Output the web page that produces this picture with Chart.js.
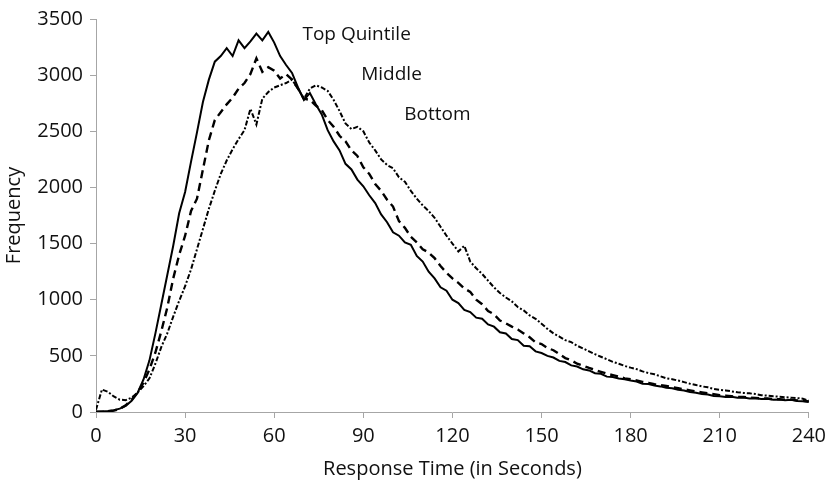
<!DOCTYPE html>
<html>
<head>
<meta charset="utf-8">
<script src="https://cdn.jsdelivr.net/npm/chart.js@4.4.1/dist/chart.umd.min.js"></script>
<style>
  html, body { margin: 0; padding: 0; background: #fff; }
</style>
</head>
<body>
<canvas id="responseChart" width="832" height="484"></canvas>
<script>
// Response time distributions by quintile, one value every 2 seconds
const seconds = [0, 2, 4, 6, 8, 10, 12, 14, 16, 18, 20, 22, 24, 26, 28, 30, 32, 34, 36, 38,
  40, 42, 44, 46, 48, 50, 52, 54, 56, 58, 60, 62, 64, 66, 68, 70, 72, 74, 76, 78,
  80, 82, 84, 86, 88, 90, 92, 94, 96, 98, 100, 102, 104, 106, 108, 110, 112, 114, 116, 118,
  120, 122, 124, 126, 128, 130, 132, 134, 136, 138, 140, 142, 144, 146, 148, 150, 152, 154, 156, 158,
  160, 162, 164, 166, 168, 170, 172, 174, 176, 178, 180, 182, 184, 186, 188, 190, 192, 194, 196, 198,
  200, 202, 204, 206, 208, 210, 212, 214, 216, 218, 220, 222, 224, 226, 228, 230, 232, 234, 236, 238, 240];

const topQuintile = [5, 5, 8, 15, 30, 55, 100, 170, 290, 460, 700, 960, 1220, 1480, 1770, 1960, 2230, 2490, 2760, 2960,
  3120, 3170, 3240, 3170, 3310, 3240, 3300, 3370, 3310, 3385, 3290, 3170, 3090, 3020, 2890, 2780, 2840, 2740, 2650, 2510,
  2410, 2330, 2210, 2160, 2070, 2010, 1930, 1860, 1760, 1690, 1600, 1570, 1510, 1490, 1390, 1340, 1250, 1190, 1110, 1080,
  1000, 970, 910, 890, 840, 830, 780, 760, 710, 700, 650, 640, 590, 585, 540, 525, 500, 485, 455, 445,
  415, 405, 380, 370, 345, 340, 315, 312, 298, 292, 280, 272, 252, 250, 235, 228, 215, 212, 198, 192,
  178, 172, 160, 155, 143, 140, 134, 136, 126, 128, 120, 122, 115, 118, 110, 112, 105, 108, 98, 96, 90];

const middle = [0, 3, 5, 12, 28, 60, 110, 175, 260, 380, 530, 720, 930, 1190, 1400, 1570, 1790, 1900, 2160, 2420,
  2600, 2670, 2740, 2800, 2880, 2930, 3010, 3150, 3030, 3070, 3040, 2970, 3010, 2960, 2880, 2790, 2780, 2730, 2690, 2600,
  2540, 2460, 2410, 2330, 2280, 2180, 2120, 2030, 1970, 1890, 1830, 1700, 1640, 1560, 1510, 1450, 1420, 1370, 1300, 1240,
  1190, 1150, 1100, 1070, 1000, 960, 900, 870, 815, 790, 760, 735, 700, 665, 620, 605, 570, 550, 515, 480,
  460, 430, 412, 392, 375, 358, 342, 328, 315, 300, 292, 282, 268, 260, 248, 240, 232, 222, 212, 202,
  192, 183, 174, 166, 158, 150, 146, 141, 135, 133, 128, 126, 121, 120, 115, 114, 110, 110, 104, 100, 95];

const bottom = [20, 200, 180, 138, 110, 105, 128, 172, 230, 300, 430, 580, 700, 850, 990, 1120, 1270, 1450, 1630, 1810,
  1970, 2120, 2240, 2340, 2430, 2510, 2700, 2560, 2790, 2850, 2890, 2910, 2930, 2960, 2880, 2790, 2880, 2910, 2890, 2860,
  2780, 2680, 2570, 2520, 2540, 2500, 2400, 2330, 2250, 2200, 2170, 2090, 2050, 1970, 1900, 1840, 1790, 1730, 1650, 1570,
  1500, 1430, 1480, 1340, 1280, 1230, 1170, 1110, 1060, 1020, 985, 935, 905, 860, 830, 786, 740, 700, 672, 640,
  622, 590, 566, 540, 515, 492, 470, 447, 430, 410, 395, 382, 362, 347, 336, 318, 300, 292, 280, 266,
  252, 240, 228, 220, 205, 198, 192, 184, 176, 170, 166, 160, 150, 146, 140, 137, 132, 128, 124, 118, 100];

// in-plot labels, placed in data units
const seriesLabels = ['Top Quintile', 'Middle', 'Bottom'];
const labelAt = [[69.5, 3360], [89.3, 3005], [103.8, 2650]];

const FONT = '"Open Sans", "DejaVu Sans", sans-serif';
const AXIS_GREY = '#a6a6a6';

const toPoints = (vals) => vals.map((v, i) => ({ x: seconds[i], y: v }));

const seriesLabelPlugin = {
  id: 'seriesLabels',
  afterDatasetsDraw(chart) {
    const { ctx, scales } = chart;
    ctx.save();
    ctx.fillStyle = '#111';
    ctx.font = '19px ' + FONT;
    ctx.textAlign = 'left';
    ctx.textBaseline = 'middle';
    seriesLabels.forEach((txt, i) => {
      ctx.fillText(txt, scales.x.getPixelForValue(labelAt[i][0]), scales.y.getPixelForValue(labelAt[i][1]));
    });
    ctx.restore();
  }
};

new Chart(document.getElementById('responseChart'), {
  type: 'line',
  data: {
    datasets: [
      { label: 'Top Quintile', data: toPoints(topQuintile), borderColor: '#000', borderWidth: 2 },
      { label: 'Middle', data: toPoints(middle), borderColor: '#000', borderWidth: 2.4, borderDash: [8, 5] },
      { label: 'Bottom', data: toPoints(bottom), borderColor: '#000', borderWidth: 2, borderDash: [5, 2, 2, 2] }
    ]
  },
  options: {
    responsive: false,
    animation: false,
    elements: { point: { radius: 0 }, line: { tension: 0 } },
    layout: { padding: { top: 17, right: 17, bottom: 0, left: 0 } },
    scales: {
      x: {
        type: 'linear',
        min: 0,
        max: 240,
        afterFit: (s) => { s.height = 72; },
        ticks: { stepSize: 30, color: '#111', font: { family: FONT, size: 20 }, padding: 6, maxRotation: 0,
          callback: (v) => String(v) },
        grid: { drawOnChartArea: false, drawTicks: true, tickLength: 6, color: AXIS_GREY },
        border: { color: AXIS_GREY, width: 1 },
        title: { display: true, text: 'Response Time (in Seconds)', color: '#111', font: { family: FONT, size: 20 }, padding: { top: 0, bottom: 3 } }
      },
      y: {
        min: 0,
        max: 3500,
        afterFit: (s) => { s.width = 96; },
        ticks: { stepSize: 500, color: '#111', font: { family: FONT, size: 20 }, padding: 7,
          callback: (v) => String(v) },
        grid: { drawOnChartArea: false, drawTicks: true, tickLength: 6, color: AXIS_GREY },
        border: { color: AXIS_GREY, width: 1 },
        title: { display: true, text: 'Frequency', color: '#111', font: { family: FONT, size: 20 }, padding: { top: 2, bottom: 0 } }
      }
    },
    plugins: {
      legend: { display: false },
      tooltip: { enabled: false }
    }
  },
  plugins: [seriesLabelPlugin]
});
</script>
</body>
</html>
